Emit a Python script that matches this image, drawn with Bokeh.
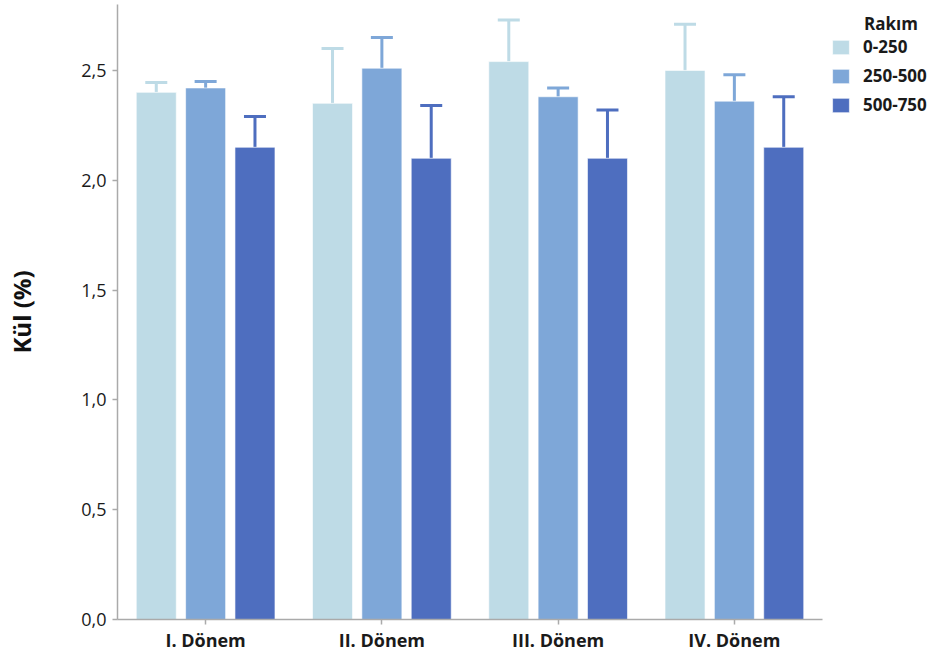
from bokeh.plotting import figure
from bokeh.models import (ColumnDataSource, FactorRange, Range1d, FixedTicker,
                          Whisker, TeeHead, Legend, LegendItem)
from bokeh.transform import dodge
from bokeh.embed import file_html
from bokeh.resources import INLINE

# Ash content (%) by sampling period and altitude band
periods = ["I. Dönem", "II. Dönem", "III. Dönem", "IV. Dönem"]
altitudes = ["0-250", "250-500", "500-750"]
mean_0_250 = [2.40, 2.35, 2.54, 2.50]
mean_250_500 = [2.42, 2.51, 2.38, 2.36]
mean_500_750 = [2.15, 2.10, 2.10, 2.15]
err_0_250 = [0.045, 0.25, 0.19, 0.21]
err_250_500 = [0.03, 0.14, 0.04, 0.12]
err_500_750 = [0.14, 0.24, 0.22, 0.23]
y_ticks = [0.0, 0.5, 1.0, 1.5, 2.0, 2.5]
y_tick_labels = ["0,0", "0,5", "1,0", "1,5", "2,0", "2,5"]

colors = ["#bedbe6", "#7ea7d8", "#4e6ebf"]
offsets = [-0.28, 0.0, 0.28]
means = [mean_0_250, mean_250_500, mean_500_750]
errs = [err_0_250, err_250_500, err_500_750]

FONT = "Open Sans"
TEXT = "#1a1a1a"

p = figure(x_range=FactorRange(*periods, range_padding=0),
           y_range=Range1d(0, 2.8),
           frame_width=705, frame_height=615,
           output_backend="svg", toolbar_location=None,
           min_border_left=117, min_border_right=10,
           min_border_top=4, min_border_bottom=33)

p.outline_line_color = None
p.xgrid.grid_line_color = None
p.ygrid.grid_line_color = None
p.background_fill_color = "white"
p.border_fill_color = "white"

legend_items = []
for name, col, off, m, e in zip(altitudes, colors, offsets, means, errs):
    src = ColumnDataSource(dict(
        period=periods, mean=m,
        upper=[a + b for a, b in zip(m, e)],
    ))
    xs = dodge("period", off, range=p.x_range)
    r = p.vbar(x=xs, top="mean", width=0.227, source=src,
               fill_color=col, line_color="white", line_width=1, line_alpha=0.6)
    w = Whisker(source=src, base=xs, lower="mean", upper="upper",
                line_color=col, line_width=3,
                upper_head=TeeHead(size=22, line_color=col, line_width=3),
                lower_head=None, level="underlay")
    p.add_layout(w)
    legend_items.append(LegendItem(label=name, renderers=[r]))

# legend in its own panel to the right of the plotting area;
# the title is indented to line up with the item labels
legend = Legend(items=legend_items, title="\u2003\u2003Rakım",
                location="top_left", margin=8, padding=14,
                border_line_color=None, background_fill_alpha=0,
                glyph_width=21, glyph_height=18, label_height=18, spacing=6,
                label_standoff=12,
                label_text_font=FONT, label_text_font_size="17px",
                label_text_font_style="bold", label_text_color=TEXT,
                title_text_font=FONT, title_text_font_size="17px",
                title_text_font_style="bold", title_text_color=TEXT,
                title_standoff=0)
p.add_layout(legend, "right")

ax = p.yaxis[0]
ax.ticker = FixedTicker(ticks=y_ticks)
ax.major_label_overrides = {t: l for t, l in zip(y_ticks, y_tick_labels)}
ax.axis_label = "Kül (%)"
ax.axis_label_text_font = FONT
ax.axis_label_text_font_size = "24px"
ax.axis_label_text_font_style = "bold"
ax.axis_label_text_color = "#111111"
ax.axis_label_standoff = 40
ax.major_label_text_font = FONT
ax.major_label_text_font_size = "18px"
ax.major_label_text_color = TEXT
ax.major_label_standoff = 6

xa = p.xaxis[0]
xa.major_label_text_font = FONT
xa.major_label_text_font_size = "18px"
xa.major_label_text_font_style = "bold"
xa.major_label_text_color = TEXT
xa.major_label_standoff = 3

for a in (ax, xa):
    a.axis_line_color = "#aaaaaa"
    a.axis_line_width = 1.5
    a.major_tick_line_color = "#aaaaaa"
    a.major_tick_line_width = 1.5
    a.major_tick_out = 5
    a.major_tick_in = 0
    a.minor_tick_line_color = None

open("out.html", "w").write(file_html(p, INLINE))
